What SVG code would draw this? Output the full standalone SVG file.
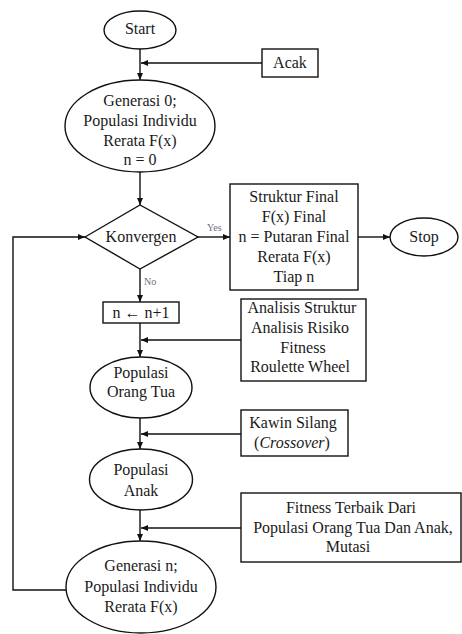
<svg xmlns="http://www.w3.org/2000/svg" width="462" height="634" viewBox="0 0 462 634">
<style>
.s{fill:#fff;stroke:#111;stroke-width:1.4}
.t{font-family:"Liberation Serif","Times New Roman",serif;font-size:16px;fill:#1a1a1a;text-anchor:middle}
.l{font-family:"Liberation Serif","Times New Roman",serif;font-size:10px;fill:#6a6f80}
.c{fill:none;stroke:#111;stroke-width:1.4}
</style>
<defs>
<marker id="a" markerUnits="userSpaceOnUse" markerWidth="8" markerHeight="8" refX="7" refY="4" orient="auto">
<path d="M0,1 L7,4 L0,7 Z" fill="#111"/>
</marker>
</defs>
<g id="connectors">
<line class="c" x1="140" y1="49" x2="140" y2="80" marker-end="url(#a)"/>
<line class="c" x1="262" y1="63" x2="141" y2="63" marker-end="url(#a)"/>
<line class="c" x1="140" y1="172" x2="140" y2="205" marker-end="url(#a)"/>
<line class="c" x1="198" y1="237" x2="230" y2="237" marker-end="url(#a)"/>
<line class="c" x1="358" y1="237" x2="390" y2="237" marker-end="url(#a)"/>
<line class="c" x1="140" y1="269" x2="140" y2="302" marker-end="url(#a)"/>
<line class="c" x1="140" y1="323" x2="140" y2="357" marker-end="url(#a)"/>
<line class="c" x1="241" y1="340" x2="141" y2="340" marker-end="url(#a)"/>
<line class="c" x1="140" y1="418" x2="140" y2="449" marker-end="url(#a)"/>
<line class="c" x1="241" y1="434" x2="141" y2="434" marker-end="url(#a)"/>
<line class="c" x1="140" y1="510" x2="140" y2="541" marker-end="url(#a)"/>
<line class="c" x1="241" y1="528" x2="141" y2="528" marker-end="url(#a)"/>
<polyline class="c" points="66,590 13,590 13,237 85,237" marker-end="url(#a)"/>
<text class="l" x="207" y="231">Yes</text>
<text class="l" x="144" y="285">No</text>
</g>
<g id="start">
<ellipse class="s" cx="140" cy="30" rx="36" ry="19"/>
<text class="t" x="140" y="34">Start</text>
</g>
<g id="acak">
<rect class="s" x="262" y="49" width="56" height="28"/>
<text class="t" x="290" y="68">Acak</text>
</g>
<g id="generasi0">
<ellipse class="s" cx="140" cy="126" rx="75" ry="46"/>
<text class="t" x="140" y="106">Generasi 0;</text>
<text class="t" x="140" y="126">Populasi Individu</text>
<text class="t" x="140" y="146">Rerata F(x)</text>
<text class="t" x="140" y="165">n = 0</text>
</g>
<g id="konvergen">
<polygon class="s" points="85,237 140,205 198,237 140,269"/>
<text class="t" x="141" y="242">Konvergen</text>
</g>
<g id="final">
<rect class="s" x="230" y="184" width="128" height="106"/>
<text class="t" x="294" y="202">Struktur Final</text>
<text class="t" x="294" y="222">F(x) Final</text>
<text class="t" x="294" y="242">n = Putaran Final</text>
<text class="t" x="294" y="262">Rerata F(x)</text>
<text class="t" x="294" y="282">Tiap n</text>
</g>
<g id="stop">
<ellipse class="s" cx="424" cy="237" rx="34" ry="19"/>
<text class="t" x="424" y="242">Stop</text>
</g>
<g id="increment">
<rect class="s" x="103" y="302" width="76" height="21"/>
<text class="t" x="141" y="318">n ← n+1</text>
</g>
<g id="analisis">
<rect class="s" x="241" y="299" width="125" height="82"/>
<text class="t" x="302" y="313">Analisis Struktur</text>
<text class="t" x="300" y="333">Analisis Risiko</text>
<text class="t" x="303" y="353">Fitness</text>
<text class="t" x="300" y="372">Roulette Wheel</text>
</g>
<g id="orangtua">
<ellipse class="s" cx="141" cy="387.5" rx="51" ry="30.5"/>
<text class="t" x="141" y="378">Populasi</text>
<text class="t" x="141" y="397">Orang Tua</text>
</g>
<g id="kawin">
<rect class="s" x="241" y="410" width="107" height="46"/>
<text class="t" x="293" y="428">Kawin Silang</text>
<text class="t" x="292" y="448">(<tspan font-style="italic">Crossover</tspan>)</text>
</g>
<g id="anak">
<ellipse class="s" cx="141" cy="479.5" rx="51.5" ry="30.5"/>
<text class="t" x="141" y="475">Populasi</text>
<text class="t" x="141" y="496">Anak</text>
</g>
<g id="terbaik">
<rect class="s" x="241" y="493" width="220" height="69"/>
<text class="t" x="351" y="513">Fitness Terbaik Dari</text>
<text class="t" x="353" y="533">Populasi Orang Tua Dan Anak,</text>
<text class="t" x="348" y="552">Mutasi</text>
</g>
<g id="generasin">
<ellipse class="s" cx="141" cy="587" rx="75" ry="46"/>
<text class="t" x="141" y="571">Generasi n;</text>
<text class="t" x="141" y="592">Populasi Individu</text>
<text class="t" x="141" y="612">Rerata F(x)</text>
</g>
</svg>
